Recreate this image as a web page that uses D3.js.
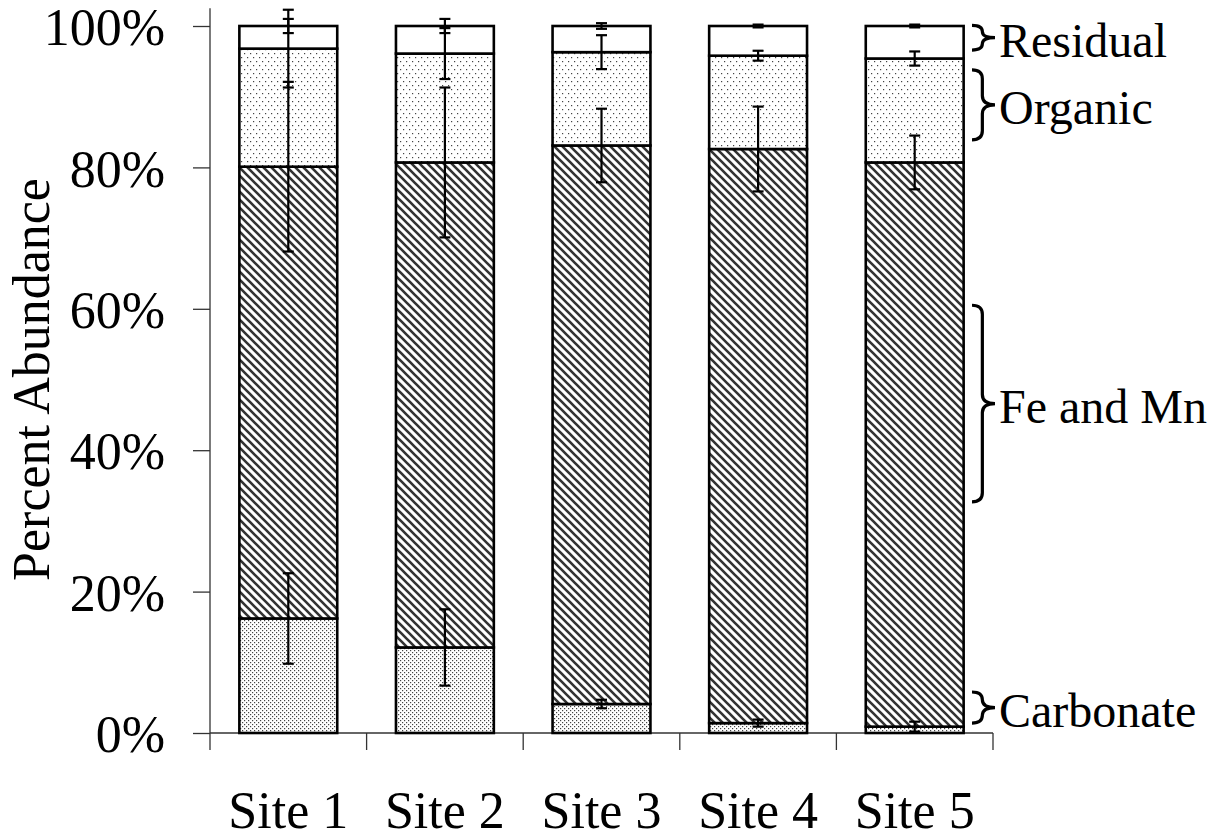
<!DOCTYPE html>
<html>
<head>
<meta charset="utf-8">
<script src="https://cdn.jsdelivr.net/npm/d3@7"></script>
<style>
  body { margin: 0; background: #fff; }
  svg text { font-family: "Liberation Serif", "Times New Roman", Times, "DejaVu Serif", serif !important; }
</style>
</head>
<body>
<div class="chart"></div>
<script>
const sites = ["Site 1", "Site 2", "Site 3", "Site 4", "Site 5"];

// fraction values (%), bottom to top
const carbonate = [16.2, 12.1, 4.1, 1.4, 0.9];
const feMn      = [63.9, 68.6, 79.0, 81.2, 79.8];
const organic   = [16.7, 15.4, 13.2, 13.2, 14.7];
const residual  = [3.2, 3.9, 3.7, 4.2, 4.6];

// error bar half-lengths (%)
const carbonateErr = [6.4, 5.4, 0.6, 0.5, 0.7];
const feMnErr      = [12.0, 10.6, 5.2, 6.0, 3.8];
const organicErr   = [5.5, 3.6, 2.4, 0.7, 1.0];
const residualErr  = [1.0, 1.0, 0.4, 0.2, 0.2];

const yTicks = [0, 20, 40, 60, 80, 100];

// bracket annotations on the right
const braceLabels = ["Residual", "Organic", "Fe and Mn", "Carbonate"];
const braceTop    = [100.1, 93.8, 60.5, 5.8];
const braceBottom = [96.6, 83.9, 32.7, 1.4];

const createChart = () => {
  const W = 1217, H = 838;
  const left = 210, right = 993, top = 26, bottom = 733;

  const svg = d3.select(".chart").append("svg")
    .attr("width", W).attr("height", H);

  const defs = svg.append("defs");
  // dense dots (carbonate)
  const pc = defs.append("pattern").attr("id", "dotsDense")
    .attr("patternUnits", "userSpaceOnUse").attr("width", 4).attr("height", 4);
  pc.append("rect").attr("width", 4).attr("height", 4).attr("fill", "#fff");
  pc.append("rect").attr("x", 0).attr("y", 0).attr("width", 1.2).attr("height", 1.2).attr("fill", "#444");
  pc.append("rect").attr("x", 2).attr("y", 2).attr("width", 1.2).attr("height", 1.2).attr("fill", "#444");
  // sparse dots (organic)
  const po = defs.append("pattern").attr("id", "dotsSparse")
    .attr("patternUnits", "userSpaceOnUse").attr("width", 6).attr("height", 8);
  po.append("rect").attr("width", 6).attr("height", 8).attr("fill", "#fff");
  po.append("rect").attr("x", 1).attr("y", 1).attr("width", 1.2).attr("height", 1.2).attr("fill", "#444");
  po.append("rect").attr("x", 4).attr("y", 5).attr("width", 1.2).attr("height", 1.2).attr("fill", "#444");
  // diagonal hatch (Fe and Mn)
  const ph = defs.append("pattern").attr("id", "hatch")
    .attr("patternUnits", "userSpaceOnUse").attr("width", 8).attr("height", 8);
  ph.append("rect").attr("width", 8).attr("height", 8).attr("fill", "#fff");
  ph.append("path").attr("d", "M-2,-2 L10,10 M-2,6 L2,10 M6,-2 L10,2")
    .attr("stroke", "#333").attr("stroke-width", 2.6);

  const keys = ["Carbonate", "FeMn", "Organic", "Residual"];
  const fills = {
    Carbonate: "url(#dotsDense)", FeMn: "url(#hatch)",
    Organic: "url(#dotsSparse)", Residual: "#fff"
  };
  const errs = { Carbonate: carbonateErr, FeMn: feMnErr, Organic: organicErr, Residual: residualErr };

  const table = sites.map((s, i) => ({
    site: s, Carbonate: carbonate[i], FeMn: feMn[i], Organic: organic[i], Residual: residual[i]
  }));
  const stacked = d3.stack().keys(keys)(table);

  const x = d3.scaleBand().domain(sites).range([left, right])
    .paddingInner(0.375).paddingOuter(0.1875);
  const y = d3.scaleLinear().domain([0, 100]).range([bottom, top]);

  // Y axis
  const yAxis = svg.append("g")
    .attr("transform", `translate(${left},0)`)
    .call(d3.axisLeft(y).tickValues(yTicks).tickFormat(d => d + "%")
      .tickSize(17).tickPadding(28).tickSizeOuter(0));
  yAxis.select(".domain").remove();
  yAxis.append("line").attr("x1", 0).attr("x2", 0)
    .attr("y1", y(102.5)).attr("y2", y(0));
  yAxis.selectAll("line").attr("stroke", "#333").attr("stroke-width", 1.3);
  yAxis.selectAll("text").attr("font-size", 52).attr("fill", "#000").attr("dy", "0.36em");

  // X axis
  const xAxis = svg.append("g")
    .attr("transform", `translate(0,${bottom})`)
    .call(d3.axisBottom(x).tickSize(0).tickPadding(58));
  xAxis.select(".domain").remove();
  xAxis.append("line").attr("x1", left).attr("x2", right)
    .attr("stroke", "#333").attr("stroke-width", 1.3);
  const bounds = sites.map(s => x(s) - x.step() * x.paddingInner() / 2);
  bounds.push(right);
  xAxis.selectAll(".bound").data(bounds).join("line")
    .attr("class", "bound")
    .attr("x1", d => d).attr("x2", d => d)
    .attr("y1", 0).attr("y2", 17)
    .attr("stroke", "#333").attr("stroke-width", 1.3);
  xAxis.selectAll("text").attr("font-size", 52).attr("fill", "#000");

  // Y label
  svg.append("text")
    .attr("transform", `translate(49,${(top + bottom) / 2 + 0})rotate(-90)`)
    .attr("text-anchor", "middle")
    .attr("font-size", 52)
    .text("Percent Abundance");

  // Bars
  const layer = svg.append("g").selectAll("g")
    .data(stacked).join("g")
    .attr("fill", d => fills[d.key]);
  layer.selectAll("rect")
    .data(d => d).join("rect")
    .attr("x", d => x(d.data.site))
    .attr("y", d => y(d[1]))
    .attr("width", x.bandwidth())
    .attr("height", d => y(d[0]) - y(d[1]))
    .attr("stroke", "#000")
    .attr("stroke-width", 2.6);

  // Error bars
  const errData = [];
  stacked.forEach(s => s.forEach((d, i) => {
    errData.push({ site: d.data.site, v: d[1], e: errs[s.key][i] });
  }));
  const eg = svg.append("g").attr("stroke", "#000").attr("stroke-width", 2.2);
  const cap = 5.5;
  errData.forEach(d => {
    const cx = x(d.site) + x.bandwidth() / 2;
    const y1 = y(d.v + d.e), y2 = y(d.v - d.e);
    eg.append("line").attr("x1", cx).attr("x2", cx).attr("y1", y1).attr("y2", y2);
    eg.append("line").attr("x1", cx - cap).attr("x2", cx + cap).attr("y1", y1).attr("y2", y1);
    eg.append("line").attr("x1", cx - cap).attr("x2", cx + cap).attr("y1", y2).attr("y2", y2);
  });

  // Braces and labels
  const bx = 972, bw = 23;
  const bracePath = (t, b) => {
    const y1 = y(t), y2 = y(b), ym = (y1 + y2) / 2;
    const xm = bx + bw * 0.45, tip = bx + bw;
    const r = Math.min(9, (y2 - y1) / 4);
    return `M${bx},${y1} Q${xm},${y1} ${xm},${y1 + r} L${xm},${ym - r} Q${xm},${ym} ${tip},${ym}` +
      ` Q${xm},${ym} ${xm},${ym + r} L${xm},${y2 - r} Q${xm},${y2} ${bx},${y2}`;
  };
  const ann = svg.append("g");
  braceLabels.forEach((lab, i) => {
    ann.append("path").attr("d", bracePath(braceTop[i], braceBottom[i]))
      .attr("fill", "none").attr("stroke", "#000").attr("stroke-width", 3.2);
    ann.append("text")
      .attr("x", 999)
      .attr("y", (y(braceTop[i]) + y(braceBottom[i])) / 2 + 19)
      .attr("font-size", 48)
      .text(lab);
  });
};

createChart();
</script>
</body>
</html>
